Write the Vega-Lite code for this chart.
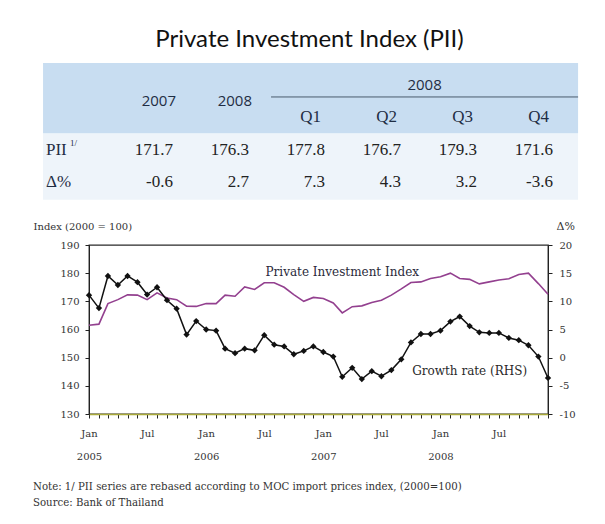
{
  "$schema": "https://vega.github.io/schema/vega-lite/v6.json",
  "background": "white",
  "padding": {"left": 32, "top": 28, "right": 5, "bottom": 5},
  "spacing": 17,
  "config": {
    "view": {"stroke": "#2a2a2a", "strokeWidth": 1.3},
    "axis": {"grid": false, "labelFont": "DejaVu Serif", "labelFontSize": 10, "labelColor": "#333", "domainColor": "#222", "tickColor": "#222", "tickSize": 4},
    "title": {"color": "#222"}
  },
  "datasets": {
    "cells": [
      {"col": 1, "row": 2, "v": "171.7"}, {"col": 2, "row": 2, "v": "176.3"}, {"col": 3, "row": 2, "v": "177.8"},
      {"col": 4, "row": 2, "v": "176.7"}, {"col": 5, "row": 2, "v": "179.3"}, {"col": 6, "row": 2, "v": "171.6"},
      {"col": 1, "row": 3, "v": "-0.6"}, {"col": 2, "row": 3, "v": "2.7"}, {"col": 3, "row": 3, "v": "7.3"},
      {"col": 4, "row": 3, "v": "4.3"}, {"col": 5, "row": 3, "v": "3.2"}, {"col": 6, "row": 3, "v": "-3.6"}
    ],
    "years": [{"col": 1, "row": 0.5, "v": "2007"}, {"col": 2, "row": 0.5, "v": "2008"}],
    "quarters": [{"col": 3, "row": 1, "v": "Q1"}, {"col": 4, "row": 1, "v": "Q2"}, {"col": 5, "row": 1, "v": "Q3"}, {"col": 6, "row": 1, "v": "Q4"}],
    "rowlabels": [{"col": 0, "row": 2, "v": "PII", "sup": "1/"}, {"col": 0, "row": 3, "v": "Δ%", "sup": ""}],
    "pii": [
      {"date": "2005-01-01", "index": 161.5, "growth": 11.1},
      {"date": "2005-02-01", "index": 161.9, "growth": 8.8},
      {"date": "2005-03-01", "index": 169.2, "growth": 14.5},
      {"date": "2005-04-01", "index": 170.6, "growth": 12.9},
      {"date": "2005-05-01", "index": 172.3, "growth": 14.5},
      {"date": "2005-06-01", "index": 172.2, "growth": 13.4},
      {"date": "2005-07-01", "index": 170.6, "growth": 11.2},
      {"date": "2005-08-01", "index": 173.0, "growth": 12.5},
      {"date": "2005-09-01", "index": 171.2, "growth": 10.2},
      {"date": "2005-10-01", "index": 170.6, "growth": 8.7},
      {"date": "2005-11-01", "index": 168.3, "growth": 4.1},
      {"date": "2005-12-01", "index": 168.2, "growth": 6.5},
      {"date": "2006-01-01", "index": 169.2, "growth": 5.0},
      {"date": "2006-02-01", "index": 169.2, "growth": 4.8},
      {"date": "2006-03-01", "index": 172.2, "growth": 1.6},
      {"date": "2006-04-01", "index": 171.8, "growth": 0.8},
      {"date": "2006-05-01", "index": 175.1, "growth": 1.6},
      {"date": "2006-06-01", "index": 174.2, "growth": 1.3},
      {"date": "2006-07-01", "index": 176.6, "growth": 4.0},
      {"date": "2006-08-01", "index": 176.6, "growth": 2.3},
      {"date": "2006-09-01", "index": 175.0, "growth": 2.0},
      {"date": "2006-10-01", "index": 172.4, "growth": 0.6},
      {"date": "2006-11-01", "index": 170.0, "growth": 1.2},
      {"date": "2006-12-01", "index": 171.4, "growth": 2.0},
      {"date": "2007-01-01", "index": 171.0, "growth": 1.0},
      {"date": "2007-02-01", "index": 169.4, "growth": 0.2},
      {"date": "2007-03-01", "index": 165.9, "growth": -3.4},
      {"date": "2007-04-01", "index": 168.1, "growth": -1.8},
      {"date": "2007-05-01", "index": 168.4, "growth": -3.8},
      {"date": "2007-06-01", "index": 169.6, "growth": -2.4},
      {"date": "2007-07-01", "index": 170.4, "growth": -3.3},
      {"date": "2007-08-01", "index": 172.2, "growth": -2.2},
      {"date": "2007-09-01", "index": 174.4, "growth": -0.3},
      {"date": "2007-10-01", "index": 176.7, "growth": 2.7},
      {"date": "2007-11-01", "index": 176.9, "growth": 4.2},
      {"date": "2007-12-01", "index": 178.1, "growth": 4.2},
      {"date": "2008-01-01", "index": 178.7, "growth": 4.8},
      {"date": "2008-02-01", "index": 180.0, "growth": 6.4},
      {"date": "2008-03-01", "index": 178.1, "growth": 7.3},
      {"date": "2008-04-01", "index": 177.8, "growth": 5.6},
      {"date": "2008-05-01", "index": 176.2, "growth": 4.5},
      {"date": "2008-06-01", "index": 176.9, "growth": 4.4},
      {"date": "2008-07-01", "index": 177.6, "growth": 4.4},
      {"date": "2008-08-01", "index": 178.0, "growth": 3.5},
      {"date": "2008-09-01", "index": 179.5, "growth": 3.1},
      {"date": "2008-10-01", "index": 180.0, "growth": 2.2},
      {"date": "2008-11-01", "index": 176.3, "growth": 0.2},
      {"date": "2008-12-01", "index": 172.5, "growth": -3.6}
    ]
  },
  "vconcat": [
    {
      "width": 459,
      "height": 144,
      "view": {"stroke": null},
      "title": {"text": "Private Investment Index (PII)", "font": "Lato", "fontSize": 24, "fontWeight": "normal", "anchor": "middle", "offset": 6, "dx": -9, "color": "#111"},
      "layer": [
        {
          "data": {"values": [{}]},
          "mark": {"type": "rect", "color": "#eef4fa"},
          "encoding": {
            "x": {"datum": -0.71, "type": "quantitative", "scale": {"domain": [-0.10526, 5.93421], "nice": false, "zero": false}, "axis": null},
            "x2": {"datum": 6.33},
            "y": {"datum": 1.49, "type": "quantitative", "scale": {"domain": [-0.836, 3.622], "reverse": true, "nice": false, "zero": false}, "axis": null},
            "y2": {"datum": 3.55}
          }
        },
        {
          "data": {"values": [{}]},
          "mark": {"type": "rect", "color": "#c8ddf1"},
          "encoding": {
            "x": {"datum": -0.71, "type": "quantitative"},
            "x2": {"datum": 6.33},
            "y": {"datum": -0.68, "type": "quantitative"},
            "y2": {"datum": 1.49}
          }
        },
        {
          "data": {"values": [{}]},
          "mark": {"type": "rule", "color": "#4a5a6c", "strokeWidth": 1},
          "encoding": {
            "x": {"datum": 2.29, "type": "quantitative"},
            "x2": {"datum": 6.33},
            "y": {"datum": 0.37, "type": "quantitative"}
          }
        },
        {
          "data": {"values": [{"v": "2008"}]},
          "mark": {"type": "text", "font": "Open Sans", "fontSize": 15, "color": "#1f2d44", "align": "center", "baseline": "middle"},
          "encoding": {
            "x": {"datum": 4.31, "type": "quantitative"},
            "y": {"datum": 0, "type": "quantitative"},
            "text": {"field": "v"}
          }
        },
        {
          "data": {"name": "years"},
          "mark": {"type": "text", "font": "Open Sans", "fontSize": 15, "color": "#1f2d44", "align": "right", "baseline": "middle", "dx": 3},
          "encoding": {
            "x": {"field": "col", "type": "quantitative"},
            "y": {"field": "row", "type": "quantitative"},
            "text": {"field": "v"}
          }
        },
        {
          "data": {"name": "quarters"},
          "mark": {"type": "text", "font": "Liberation Serif", "fontSize": 17, "color": "#1f2d44", "align": "right", "baseline": "middle", "dx": -4},
          "encoding": {
            "x": {"field": "col", "type": "quantitative"},
            "y": {"field": "row", "type": "quantitative"},
            "text": {"field": "v"}
          }
        },
        {
          "data": {"name": "cells"},
          "mark": {"type": "text", "font": "Liberation Serif", "fontSize": 17, "color": "#222", "align": "right", "baseline": "middle"},
          "encoding": {
            "x": {"field": "col", "type": "quantitative"},
            "y": {"field": "row", "type": "quantitative"},
            "text": {"field": "v"}
          }
        },
        {
          "data": {"name": "rowlabels"},
          "mark": {"type": "text", "font": "Liberation Serif", "fontSize": 17, "color": "#1f2d44", "align": "left", "baseline": "middle", "dx": -51},
          "encoding": {
            "x": {"field": "col", "type": "quantitative"},
            "y": {"field": "row", "type": "quantitative"},
            "text": {"field": "v"}
          }
        },
        {
          "data": {"name": "rowlabels"},
          "mark": {"type": "text", "font": "Liberation Serif", "fontSize": 9, "color": "#1f2d44", "align": "left", "baseline": "middle", "dx": -27, "dy": -7},
          "encoding": {
            "x": {"field": "col", "type": "quantitative"},
            "y": {"field": "row", "type": "quantitative"},
            "text": {"field": "sup"}
          }
        }
      ]
    },
    {
      "width": 459,
      "height": 169,
      "title": {"text": ["Note: 1/ PII series are rebased according to MOC import prices index, (2000=100)", "Source: Bank of Thailand"], "orient": "bottom", "anchor": "start", "frame": "bounds", "font": "DejaVu Serif", "fontSize": 10.2, "fontWeight": "normal", "lineHeight": 16, "offset": 21, "color": "#333"},
      "layer": [
        {
          "layer": [
            {
              "data": {"name": "pii"},
              "mark": {"type": "line", "color": "#93408f", "strokeWidth": 1.6},
              "encoding": {
                "x": {
                  "field": "date", "type": "temporal", "title": null,
                  "scale": {"type": "utc", "nice": false, "domain": [{"year": 2005, "month": 1, "date": 1, "utc": true}, {"year": 2008, "month": 12, "date": 1, "utc": true}]},
                  "axis": {
                    "tickCount": {"interval": "month", "step": 1},
                    "labelExpr": "utcmonth(datum.value) == 0 ? ['Jan', utcFormat(datum.value, '%Y')] : (utcmonth(datum.value) == 6 ? 'Jul' : '')",
                    "labelOverlap": false, "labelFlush": false, "labelBound": false,
                    "labelLineHeight": 23, "labelPadding": 10, "labelBaseline": "top",
                    "domainColor": "#a9a93a", "domainWidth": 1.3
                  }
                },
                "y": {
                  "field": "index", "type": "quantitative",
                  "scale": {"domain": [130, 190], "nice": false, "zero": false},
                  "axis": {"values": [130, 140, 150, 160, 170, 180, 190], "tickCount": 7, "labelOverlap": false, "labelPadding": 6, "title": "Index (2000 = 100)", "titleAngle": 0, "titleAlign": "left", "titleBaseline": "alphabetic", "titleX": -56, "titleY": -16, "titleFont": "DejaVu Serif", "titleFontSize": 10, "titleFontWeight": "normal", "titleColor": "#333"}
                }
              }
            },
            {
              "data": {"values": [{}]},
              "mark": {"type": "text", "font": "DejaVu Serif", "fontSize": 12, "color": "#2a2a3a", "align": "center", "baseline": "middle"},
              "encoding": {
                "x": {"datum": {"year": 2007, "month": 3, "date": 1, "utc": true}, "type": "temporal"},
                "y": {
                  "datum": 180.5, "type": "quantitative",
                  "axis": {"values": [130, 140, 150, 160, 170, 180, 190], "tickCount": 7, "labelOverlap": false, "labelPadding": 6, "title": "Index (2000 = 100)", "titleAngle": 0, "titleAlign": "left", "titleBaseline": "alphabetic", "titleX": -56, "titleY": -16, "titleFont": "DejaVu Serif", "titleFontSize": 10, "titleFontWeight": "normal", "titleColor": "#333"}
                },
                "text": {"value": "Private Investment Index"}
              }
            }
          ]
        },
        {
          "layer": [
            {
              "data": {"name": "pii"},
              "mark": {"type": "line", "color": "#111", "strokeWidth": 1.5, "point": {"shape": "diamond", "filled": true, "size": 40, "color": "#111"}},
              "encoding": {
                "x": {"field": "date", "type": "temporal"},
                "y": {
                  "field": "growth", "type": "quantitative",
                  "scale": {"domain": [-10, 20], "nice": false, "zero": false},
                  "axis": {"orient": "right", "values": [-10, -5, 0, 5, 10, 15, 20], "tickCount": 7, "labelOverlap": false, "labelExpr": "replace(datum.label, '−', '-')", "labelPadding": 7, "title": "Δ%", "titleAngle": 0, "titleAlign": "left", "titleBaseline": "alphabetic", "titleX": 8, "titleY": -16, "titleFont": "DejaVu Serif", "titleFontSize": 11, "titleFontWeight": "normal", "titleColor": "#333"}
                }
              }
            },
            {
              "data": {"values": [{}]},
              "mark": {"type": "text", "font": "DejaVu Serif", "fontSize": 12, "color": "#2a2a2a", "align": "center", "baseline": "middle"},
              "encoding": {
                "x": {"datum": {"year": 2008, "month": 4, "date": 1, "utc": true}, "type": "temporal"},
                "y": {
                  "datum": -2.4, "type": "quantitative",
                  "axis": {"orient": "right", "values": [-10, -5, 0, 5, 10, 15, 20], "tickCount": 7, "labelOverlap": false, "labelExpr": "replace(datum.label, '−', '-')", "labelPadding": 7, "title": "Δ%", "titleAngle": 0, "titleAlign": "left", "titleBaseline": "alphabetic", "titleX": 8, "titleY": -16, "titleFont": "DejaVu Serif", "titleFontSize": 11, "titleFontWeight": "normal", "titleColor": "#333"}
                },
                "text": {"value": "Growth rate (RHS)"}
              }
            }
          ]
        }
      ],
      "resolve": {"scale": {"y": "independent"}}
    }
  ]
}
